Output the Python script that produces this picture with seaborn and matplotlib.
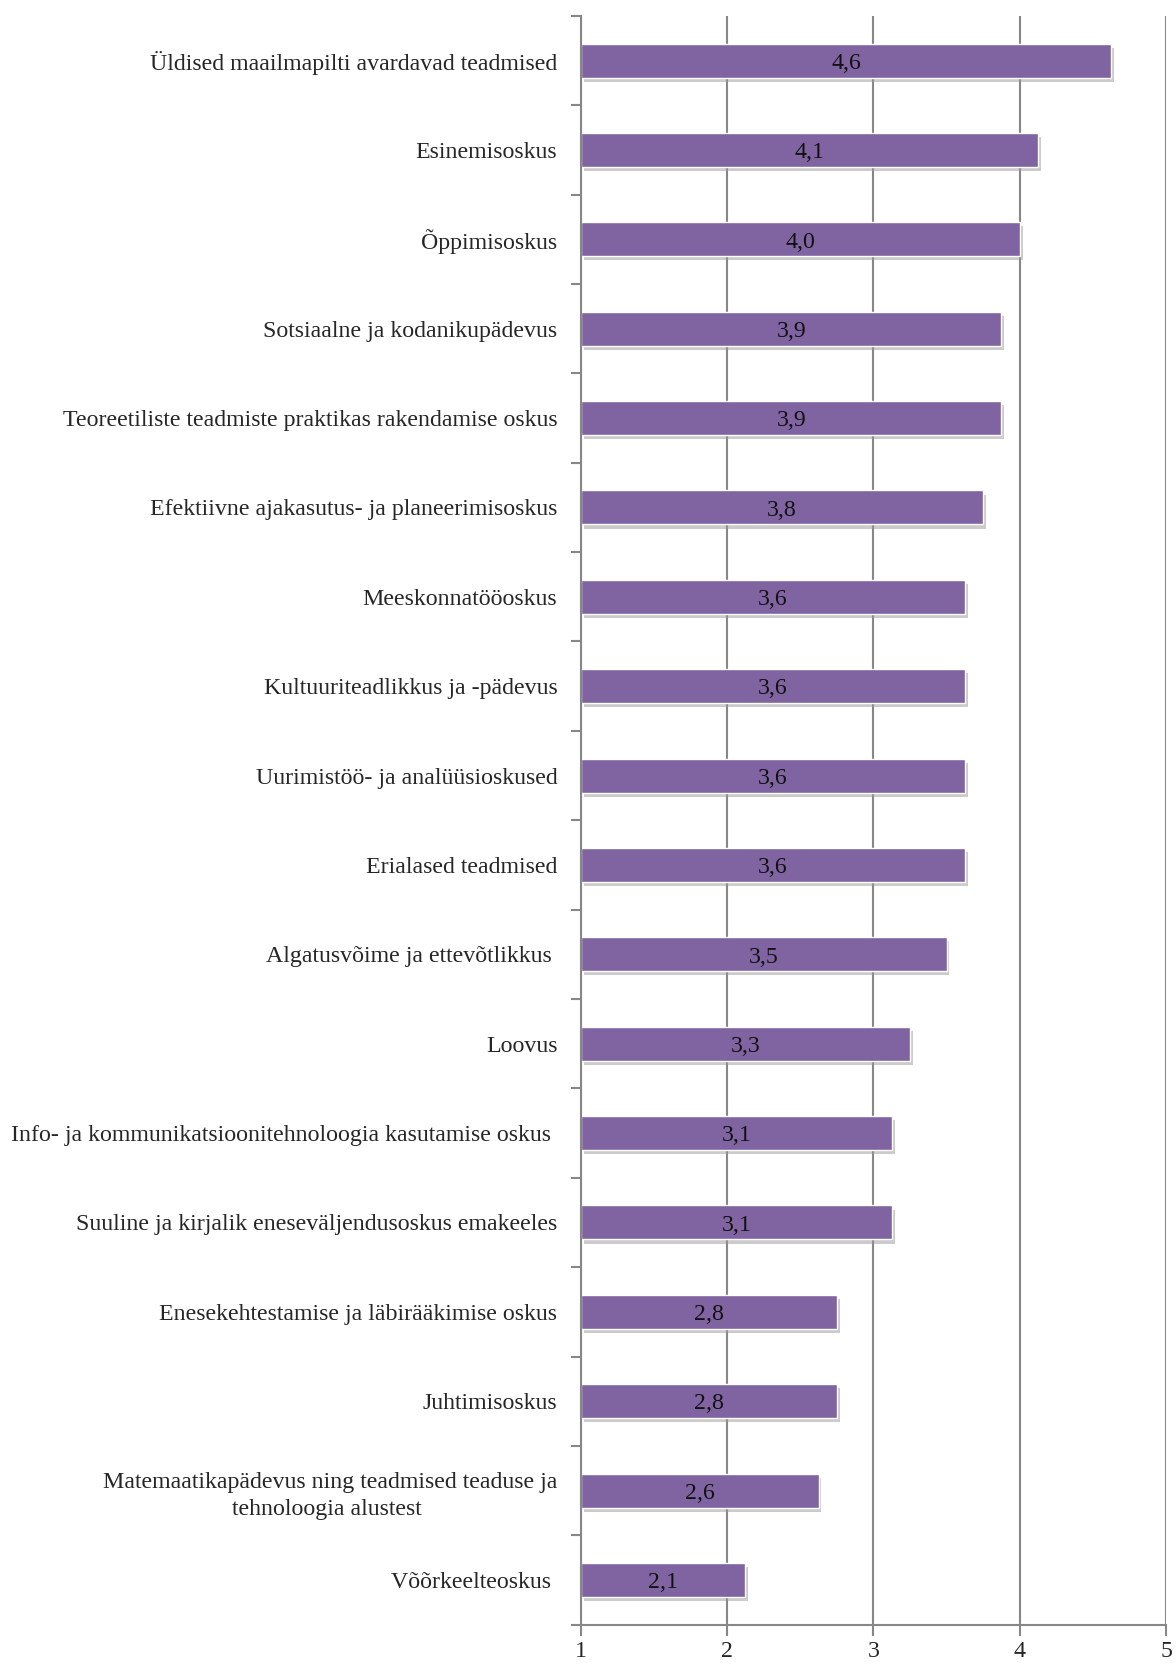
import matplotlib
matplotlib.use('Agg')
import matplotlib.pyplot as plt
import matplotlib.patheffects as pe
import seaborn as sns
import pandas as pd
import numpy as np

# andmed (keskmised hinnangud skaalal 1-5)
skills = [
    'Üldised maailmapilti avardavad teadmised',
    'Esinemisoskus',
    'Õppimisoskus',
    'Sotsiaalne ja kodanikupädevus',
    'Teoreetiliste teadmiste praktikas rakendamise oskus',
    'Efektiivne ajakasutus- ja planeerimisoskus',
    'Meeskonnatööoskus',
    'Kultuuriteadlikkus ja -pädevus',
    'Uurimistöö- ja analüüsioskused',
    'Erialased teadmised',
    'Algatusvõime ja ettevõtlikkus ',
    'Loovus',
    'Info- ja kommunikatsioonitehnoloogia kasutamise oskus ',
    'Suuline ja kirjalik eneseväljendusoskus emakeeles',
    'Enesekehtestamise ja läbirääkimise oskus',
    'Juhtimisoskus',
    'Matemaatikapädevus ning teadmised teaduse ja\ntehnoloogia alustest ',
    'Võõrkeelteoskus ',
]
scores = [4.625, 4.125, 4.0, 3.875, 3.875, 3.75, 3.625, 3.625, 3.625, 3.625,
          3.5, 3.25, 3.125, 3.125, 2.75, 2.75, 2.625, 2.125]
score_labels = ['4,6', '4,1', '4,0', '3,9', '3,9', '3,8', '3,6', '3,6', '3,6', '3,6',
                '3,5', '3,3', '3,1', '3,1', '2,8', '2,8', '2,6', '2,1']
x_ticks = [1, 2, 3, 4, 5]

df = pd.DataFrame({'skill': skills, 'score': scores})

sns.set_style('white')
plt.rcParams['font.family'] = ['Liberation Serif', 'DejaVu Serif']

fig = plt.figure(figsize=(11.76, 16.68), dpi=100)
ax = fig.add_axes([0.494, 0.026, 0.4975, 0.9645])

gray = '#878787'
purple = '#8064A2'
fs = 17.2

ax.set_axisbelow(True)
ax.grid(axis='x', color=gray, linewidth=1.5)
ax.grid(axis='y', visible=False)

sns.barplot(data=df, x='score', y='skill', orient='h', color=purple,
            width=0.38, saturation=1, edgecolor='white', linewidth=1, ax=ax)

# Excel-laadne: tulbad algavad telje miinimumist 1
bars = ax.containers[0]
for patch, v in zip(bars, scores):
    patch.set_x(1)
    patch.set_width(v - 1)
    patch.set_path_effects([pe.SimplePatchShadow(offset=(2, -3), shadow_rgbFace='#999999', alpha=0.5),
                            pe.Normal()])

anns = ax.bar_label(bars, labels=score_labels, label_type='center', fontsize=fs, color='#111111')
for a in anns:
    a.xyann = (0, -2)

ax.set_xlim(1, 5)
ax.set_ylim(len(skills) - 0.5, -0.5)
ax.set_xticks(x_ticks)
ax.set_xticklabels([str(t) for t in x_ticks], fontsize=fs)
ax.set_yticks(np.arange(len(skills)))
ax.set_yticklabels(skills, fontsize=fs, multialignment='center', linespacing=1.4)
ax.set_yticks(np.arange(-0.5, len(skills)), minor=True)
ax.tick_params(axis='y', which='major', length=0, pad=17)
ax.tick_params(axis='y', which='minor', length=7, width=1.5, color=gray, direction='out', left=True)
ax.tick_params(axis='x', length=8, width=1.5, color=gray, direction='out', bottom=True, pad=4)
ax.set_xlabel('')
ax.set_ylabel('')

for side in ['top', 'right']:
    ax.spines[side].set_visible(False)
for side in ['left', 'bottom']:
    ax.spines[side].set_color(gray)
    ax.spines[side].set_linewidth(1.5)

fig.savefig('out.png', dpi=100)
